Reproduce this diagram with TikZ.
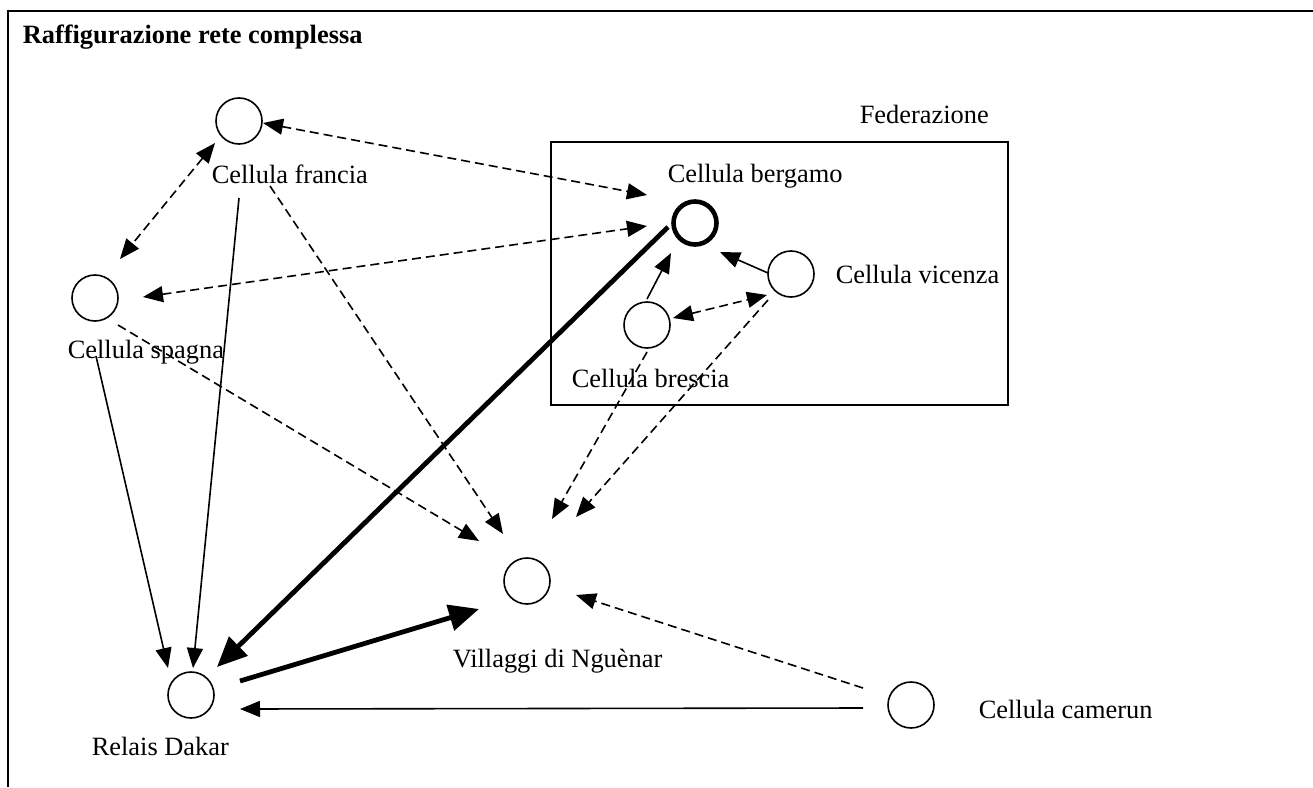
\documentclass[tikz,border=0pt]{standalone}
\usepackage{fontspec}
\setmainfont{Liberation Serif}
\usetikzlibrary{arrows.meta,calc}

\tikzset{every picture/.style={line width=1.6pt}}
\tikzset{
  cellnode/.style={draw, circle, minimum size=46pt, inner sep=0pt, line width=1.6pt},
  leadnode/.style={draw, circle, minimum size=43pt, inner sep=0pt, line width=4.6pt},
  celltext/.style={anchor=base west, inner sep=0pt, font=\fontsize{26.4}{30}\selectfont},
  tip/.style={-{Triangle[length=20pt,width=16pt]}},
  bigtip/.style={-{Triangle[length=30pt,width=26pt]}},
  bothtips/.style={{Triangle[length=20pt,width=16pt]}-{Triangle[length=20pt,width=16pt]}},
  dashedge/.style={line width=1.6pt, dash pattern=on 9pt off 5pt},
  thickedge/.style={line width=4.8pt}
}

\begin{document}
\begin{tikzpicture}[x=1pt,y=1pt,yscale=-1,xscale=1]
            \useasboundingbox (0,0) rectangle (1313,787);

            %Frame
            \draw [line width=2.4]  (8,787) -- (8,11) -- (1313,11) ;
            \node (title) [celltext, font=\fontsize{26.4}{30}\selectfont\bfseries] at (22,43) {Raffigurazione rete complessa};

            %Federazione box
            \draw [line width=1.6]  (551,142) rectangle (1008,405) ;
            \node (fedtext) [celltext] at (859,123) {Federazione};

            %Cells
            \node (francia) [cellnode] at (239,121) {};
            \node (spagna) [cellnode] at (95,298) {};
            \node (bergamo) [leadnode] at (695,223) {};
            \node (vicenza) [cellnode] at (791,274) {};
            \node (brescia) [cellnode] at (647,325) {};
            \node (villaggi) [cellnode] at (527,581) {};
            \node (dakar) [cellnode] at (191,695) {};
            \node (camerun) [cellnode] at (911,705) {};

            % Text Node
            \node (franciatext) [celltext] at (211,183) {Cellula francia};
            \node (spagnatext) [celltext] at (67,358) {Cellula spagna};
            \node (bergamotext) [celltext] at (667,182) {Cellula bergamo};
            \node (vicenzatext) [celltext] at (835,283) {Cellula vicenza};
            \node (bresciatext) [celltext] at (571,387) {Cellula brescia};
            \node (villaggitext) [celltext] at (452,667) {Villaggi di Nguènar};
            \node (dakartext) [celltext] at (91,755) {Relais Dakar};
            \node (caneruntext) [celltext] at (978,718) {Cellula camerun};

            %Dashed links
            \draw [dashedge, bothtips] ($(francia)+(24,2)$) -- ($(bergamo)+(-48,-28)$) ;
            \draw [dashedge, bothtips] ($(spagna)+(48,-1)$) -- ($(bergamo)+(-48,3)$) ;
            \draw [dashedge, bothtips] ($(francia)+(-24,22)$) -- ($(spagna)+(25,-39)$) ;
            \draw [dashedge, bothtips] ($(brescia)+(26,-7)$) -- ($(vicenza)+(-24,21)$) ;
            \draw [dashedge, tip] ($(camerun)+(-48,-17)$) -- ($(villaggi)+(49,14)$) ;
            \draw [dashedge, tip] ($(francia)+(31,65)$) -- ($(villaggi)+(-24,-47)$) ;
            \draw [dashedge, tip] ($(spagna)+(23,27)$) -- ($(villaggi)+(-48,-40)$) ;
            \draw [dashedge, tip] ($(brescia)+(0,27)$) -- ($(villaggi)+(25,-62)$) ;
            \draw [dashedge, tip] ($(vicenza)+(-23,26)$) -- ($(villaggi)+(49,-64)$) ;

            %Straight links
            \draw [tip] ($(francia)+(0,77)$) -- ($(dakar)+(2,-27)$) ;
            \draw [tip] ($(spagna)+(1,58)$) -- ($(dakar)+(-23,-27)$) ;
            \draw [tip] ($(camerun)+(-48,3)$) -- ($(dakar)+(49,14)$) ;
            \draw [tip] ($(brescia)+(0,-26)$) -- ($(bergamo)+(-24,30)$) ;
            \draw [tip] ($(vicenza)+(-23,-1)$) -- ($(bergamo)+(25,29)$) ;

            %Thick links
            \draw [thickedge, bigtip] ($(dakar)+(49,-14)$) -- ($(villaggi)+(-48,28)$) ;
            \draw [thickedge, bigtip] ($(bergamo)+(-27,4)$) -- ($(dakar)+(26,-28)$) ;

        \end{tikzpicture}
\end{document}
